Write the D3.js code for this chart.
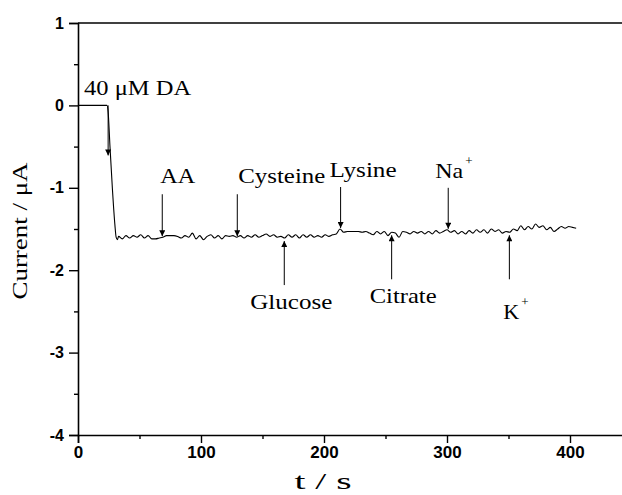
<!DOCTYPE html>
<html>
<head>
<meta charset="utf-8">
<script src="https://cdn.jsdelivr.net/npm/d3@7"></script>
<style>
  html, body { margin: 0; padding: 0; background: #fff; }
  svg { display: block; }
  .serif { font-family: "Liberation Serif", "Times New Roman", Times, serif; font-weight: normal; }
  .sans { font-family: "Liberation Sans", Arial, Helvetica, sans-serif; font-weight: bold; }
</style>
</head>
<body>
<svg id="chart" width="622" height="495"></svg>
<script>
// ---------- data ----------
const startTimes = [0, 10, 20, 23.5, 24.5, 26, 28, 30, 31, 32];
const startCurrent = [0, 0, 0, 0, -0.08, -0.5, -1.02, -1.45, -1.6, -1.63];

const noiseTimes = [33,36,39,42,45,48,51,54,57,60,63,66,69,72,75,78,81,84,87,90,93,96,99,102,105,108,111,114,117,120,123,126,129,132,135,138,141,144,147,150,153,156,159,162,165,168,171,174,177,180,183,186,189,192,195,198,201,204,207,210,213,216,219,222,225,228,231,234,237,240,243,246,249,252,255,258,261,264,267,270,273,276,279,282,285,288,291,294,297,300,303,306,309,312,315,318,321,324,327,330,333,336,339,342,345,348,351,354,357,360,363,366,369,372,375,378,381,384,387,390,393,396,399,402,405];
const noiseCurrent = [-1.59,-1.62,-1.58,-1.61,-1.58,-1.60,-1.57,-1.61,-1.58,-1.62,-1.62,-1.61,-1.60,-1.58,-1.58,-1.58,-1.59,-1.61,-1.58,-1.60,-1.55,-1.62,-1.58,-1.63,-1.59,-1.57,-1.61,-1.58,-1.62,-1.58,-1.59,-1.58,-1.60,-1.58,-1.61,-1.58,-1.60,-1.57,-1.60,-1.58,-1.56,-1.59,-1.57,-1.60,-1.59,-1.61,-1.57,-1.60,-1.57,-1.61,-1.57,-1.60,-1.57,-1.60,-1.58,-1.60,-1.57,-1.59,-1.57,-1.56,-1.50,-1.54,-1.53,-1.53,-1.53,-1.53,-1.54,-1.53,-1.55,-1.57,-1.53,-1.56,-1.53,-1.58,-1.54,-1.55,-1.60,-1.53,-1.54,-1.56,-1.53,-1.55,-1.53,-1.56,-1.53,-1.56,-1.52,-1.55,-1.53,-1.51,-1.54,-1.52,-1.56,-1.53,-1.56,-1.52,-1.55,-1.51,-1.54,-1.51,-1.55,-1.50,-1.53,-1.51,-1.55,-1.53,-1.54,-1.50,-1.52,-1.46,-1.51,-1.47,-1.50,-1.44,-1.48,-1.46,-1.51,-1.48,-1.53,-1.50,-1.47,-1.49,-1.47,-1.48,-1.49];

const xTicks = [0, 100, 200, 300, 400];
const yTicks = [1, 0, -1, -2, -3, -4];

// annotations: label, superscript, injection time, arrow direction
const annLabels = ["40 \u03BCM DA", "AA", "Cysteine", "Lysine", "Na", "Glucose", "Citrate", "K"];
const annSups   = ["", "", "", "", "+", "", "", "+"];
const annTimes  = [24.5, 68.5, 129.5, 213.5, 301, 167.7, 255, 350.7];
const annDirs   = ["down", "down", "down", "down", "down", "up", "up", "up"];

const xTitle = "t / s";
const yTitle = "Current / \u03BCA";

// ---------- layout (styles, not data) ----------
const annLayout = [
  {dx: -24, len: 50, textW: 107, dy: 0},
  {dx: -2,  len: 42, textW: 35,  dy: -11},
  {dx: 1,   len: 42, textW: 87,  dy: -11},
  {dx: -11, len: 41, textW: 67,  dy: -10},
  {dx: -13, len: 41, textW: 28,  dy: -10},
  {dx: -34, len: 44, textW: 82,  dy: 24},
  {dx: -22, len: 44, textW: 67,  dy: 24},
  {dx: -6,  len: 44, textW: 16,  dy: 40}
];

const svg = d3.select("#chart");
const x = d3.scaleLinear().domain([0, 445]).range([78, 78 + 445 * 1.23]);
const y = d3.scaleLinear().domain([-4, 1]).range([435, 23]);

// trace
const times = startTimes.concat(noiseTimes);
const vals = startCurrent.concat(noiseCurrent);
const pts = times.map((t, i) => [t, vals[i]]);

const line = d3.line().x(d => x(d[0])).y(d => y(d[1])).curve(d3.curveMonotoneX);
svg.append("path").datum(pts)
  .attr("d", line)
  .attr("fill", "none")
  .attr("stroke", "#000")
  .attr("stroke-width", 1.1);

const fmt = d => String(d);

// bottom axis major
const xAxis = d3.axisBottom(x).tickValues(xTicks).tickSize(8).tickPadding(3).tickFormat(fmt);
const gx = svg.append("g").attr("transform", `translate(0,${y(-4)})`).call(xAxis);
gx.select(".domain").attr("stroke-width", 1.6);
gx.selectAll(".tick line").attr("stroke-width", 1.4);
gx.selectAll(".tick text").attr("class", "sans").style("font-size", "17px").attr("fill", "#000");
const xMinor = d3.axisBottom(x).tickValues([50, 150, 250, 350]).tickSize(4).tickFormat("");
const gxm = svg.append("g").attr("transform", `translate(0,${y(-4)})`).call(xMinor);
gxm.select(".domain").remove();
gxm.selectAll(".tick line").attr("stroke-width", 1.4);

// left axis
const yAxis = d3.axisLeft(y).tickValues(yTicks).tickSize(9).tickPadding(5).tickFormat(fmt);
const gy = svg.append("g").attr("transform", `translate(${x(0)},0)`).call(yAxis);
gy.select(".domain").attr("stroke-width", 1.6);
gy.selectAll(".tick line").attr("stroke-width", 1.4);
gy.selectAll(".tick text").attr("class", "sans").style("font-size", "16px").attr("fill", "#000");
const yMinor = d3.axisLeft(y).tickValues([0.5, -0.5, -1.5, -2.5, -3.5]).tickSize(4).tickFormat("");
const gym = svg.append("g").attr("transform", `translate(${x(0)},0)`).call(yMinor);
gym.select(".domain").remove();
gym.selectAll(".tick line").attr("stroke-width", 1.4);

// top border
svg.append("line")
  .attr("x1", x(0)).attr("x2", 622)
  .attr("y1", y(1)).attr("y2", y(1))
  .attr("stroke", "#000").attr("stroke-width", 1.6);

// arrow marker
const defs = svg.append("defs");
defs.append("marker")
  .attr("id", "ah")
  .attr("viewBox", "0 0 10 10")
  .attr("refX", 10).attr("refY", 5)
  .attr("markerWidth", 9).attr("markerHeight", 6)
  .attr("markerUnits", "userSpaceOnUse")
  .attr("orient", "auto")
  .append("path").attr("d", "M0,0 L10,5 L0,10 Z").attr("fill", "#000");

const bis = d3.bisector(d => d[0]).center;
function traceAt(t) { return pts[bis(pts, t)][1]; }

annLabels.forEach((lab, i) => {
  const t = annTimes[i];
  const L = annLayout[i];
  const ax = x(t);
  let tipY, tailY, baseY;
  if (i === 0) {
    tailY = y(0);
    tipY = tailY + L.len;
    baseY = 95;
  } else if (annDirs[i] === "down") {
    tipY = y(traceAt(t)) - 1;
    tailY = tipY - L.len;
    baseY = tailY + L.dy;
  } else {
    tipY = y(traceAt(t)) + 3;
    tailY = tipY + L.len;
    baseY = tailY + L.dy;
  }
  svg.append("line")
    .attr("x1", ax).attr("x2", ax)
    .attr("y1", tailY).attr("y2", tipY)
    .attr("stroke", "#000").attr("stroke-width", 1)
    .attr("marker-end", "url(#ah)");
  svg.append("text")
    .attr("class", "serif")
    .attr("x", ax + L.dx).attr("y", baseY)
    .style("font-size", "21px")
    .attr("textLength", L.textW).attr("lengthAdjust", "spacingAndGlyphs")
    .text(lab);
  if (annSups[i]) {
    svg.append("text")
      .attr("class", "serif")
      .attr("x", ax + L.dx + L.textW + 2).attr("y", baseY - 13)
      .style("font-size", "13px")
      .text(annSups[i]);
  }
});

// axis titles
svg.append("text")
  .attr("class", "serif")
  .attr("x", 323).attr("y", 489)
  .attr("text-anchor", "middle")
  .style("font-size", "24px")
  .attr("textLength", 57).attr("lengthAdjust", "spacingAndGlyphs")
  .text(xTitle);

svg.append("text")
  .attr("class", "serif")
  .attr("transform", "translate(27,231) rotate(-90)")
  .attr("text-anchor", "middle")
  .style("font-size", "20px")
  .attr("textLength", 137).attr("lengthAdjust", "spacingAndGlyphs")
  .text(yTitle);
</script>
</body>
</html>
